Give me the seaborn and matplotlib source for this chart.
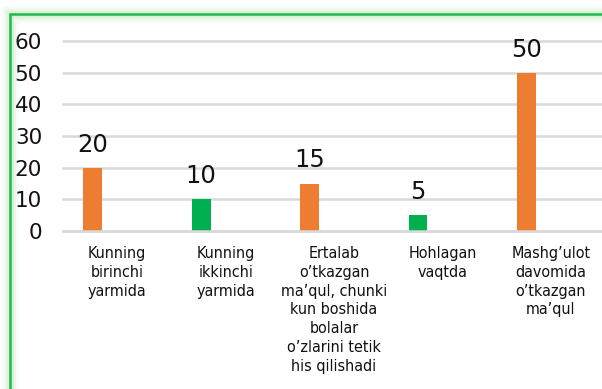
import matplotlib
matplotlib.use("Agg")
import matplotlib.pyplot as plt
from matplotlib.patches import Rectangle
from matplotlib import font_manager
import seaborn as sns
import pandas as pd

categories = [
    "Kunning\nbirinchi\nyarmida",
    "Kunning\nikkinchi\nyarmida",
    "Ertalab\no\u2019tkazgan\nma\u2019qul, chunki\nkun boshida\nbolalar\no\u2019zlarini tetik\nhis qilishadi",
    "Hohlagan\nvaqtda",
    "Mashg\u2019ulot\ndavomida\no\u2019tkazgan\nma\u2019qul",
]
values = [20, 10, 15, 5, 50]
groups = ["a", "b", "a", "b", "a"]
palette = {"a": "#ED7D31", "b": "#00B050"}
y_ticks = [0, 10, 20, 30, 40, 50, 60]

df = pd.DataFrame({"pos": range(len(values)), "value": values, "group": groups})

sns.set_style("white")
fig = plt.figure(figsize=(6.02, 3.89), dpi=100)
fig.patch.set_facecolor("white")

# pick a narrow face for the category labels when one is available
condensed = any(f.name == "DejaVu Sans" and f.stretch in ("condensed", 300)
                for f in font_manager.fontManager.ttflist)
if condensed:
    cat_font = dict(family="DejaVu Sans", fontstretch="condensed", fontsize=11.5)
else:
    cat_font = dict(family="DejaVu Sans", fontsize=10.5)

# soft green glow + frame around the chart area
x0, y0 = 10 / 602, 1 - 14 / 389
for lw, a in [(12, 0.07), (8, 0.10), (5, 0.14)]:
    fig.patches.append(Rectangle((x0, -0.2), 1.3, y0 + 0.2, transform=fig.transFigure,
                                 fill=False, edgecolor="#7FD67A", linewidth=lw, alpha=a))
fig.patches.append(Rectangle((x0, -0.2), 1.3, y0 + 0.2, transform=fig.transFigure,
                             fill=False, edgecolor="#22B84A", linewidth=1.8))

left, right = 63 / 602, 605 / 602
bottom, top = 1 - 231 / 389, 1 - 41 / 389
ax = fig.add_axes([left, bottom, right - left, top - bottom])
ax.set_facecolor("none")

# bars sit left of each category centre
shift = -0.225
sns.barplot(data=df.assign(pos=df["pos"] + shift), x="pos", y="value", hue="group",
            palette=palette, native_scale=True, width=0.175, dodge=False,
            legend=False, ax=ax, saturation=1, linewidth=0)

for p, v in zip(df["pos"] + shift, values):
    ax.annotate(str(v), (p, v), xytext=(0, 8), textcoords="offset points",
                ha="center", va="bottom", fontsize=17.5, color="#111111",
                family="DejaVu Sans")

ax.set_xlim(-0.5, len(values) - 0.5)
ax.set_ylim(0, 60)
ax.set_yticks(y_ticks)
ax.set_yticklabels([str(t) for t in y_ticks], fontsize=15.5, color="#111111",
                   family="DejaVu Sans")
ax.set_xticks(range(len(categories)))
ax.set_xticklabels(categories, color="#111111", linespacing=1.31, va="top", **cat_font)
ax.tick_params(axis="y", length=0, pad=15)
ax.tick_params(axis="x", length=0, pad=11)
ax.yaxis.grid(True, color="#D9D9D9", linewidth=1.8)
for gl in ax.get_ygridlines():
    gl.set_clip_on(False)
ax.set_axisbelow(True)
for s in ["top", "right", "left"]:
    ax.spines[s].set_visible(False)
ax.spines["bottom"].set_color("#D9D9D9")
ax.spines["bottom"].set_linewidth(1.8)
ax.set_xlabel("")
ax.set_ylabel("")

fig.savefig("out.png", dpi=100, facecolor="white")
